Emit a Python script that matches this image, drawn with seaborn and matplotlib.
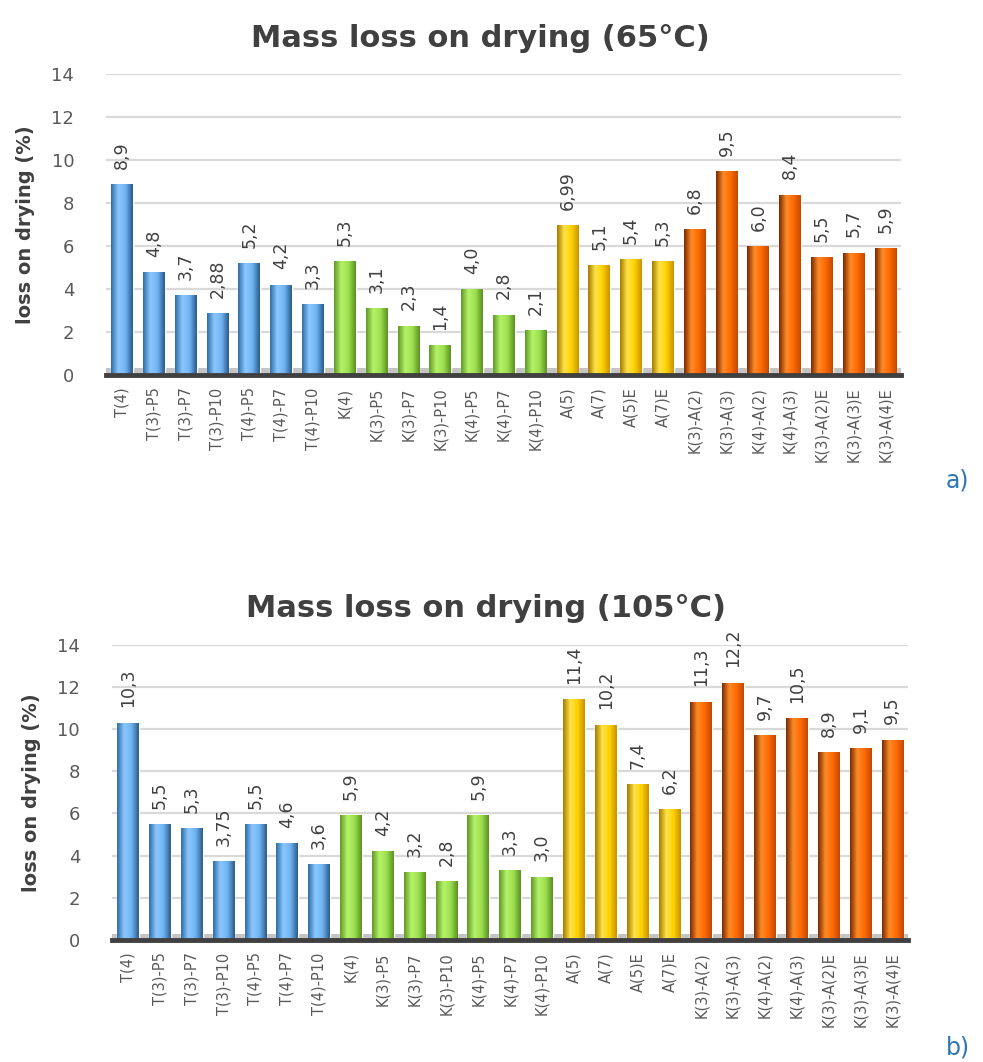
import numpy as np
import pandas as pd
import matplotlib
matplotlib.use("Agg")
import matplotlib.pyplot as plt
from matplotlib.colors import LinearSegmentedColormap
import seaborn as sns

# ---- data ----
samples = ["T(4)", "T(3)-P5", "T(3)-P7", "T(3)-P10", "T(4)-P5", "T(4)-P7", "T(4)-P10",
           "K(4)", "K(3)-P5", "K(3)-P7", "K(3)-P10", "K(4)-P5", "K(4)-P7", "K(4)-P10",
           "A(5)", "A(7)", "A(5)E", "A(7)E",
           "K(3)-A(2)", "K(3)-A(3)", "K(4)-A(2)", "K(4)-A(3)", "K(3)-A(2)E", "K(3)-A(3)E", "K(3)-A(4)E"]
groups = ["T"] * 7 + ["K"] * 7 + ["A"] * 4 + ["KA"] * 7
loss_65 = [8.9, 4.8, 3.7, 2.88, 5.2, 4.2, 3.3,
           5.3, 3.1, 2.3, 1.4, 4.0, 2.8, 2.1,
           6.99, 5.1, 5.4, 5.3,
           6.8, 9.5, 6.0, 8.4, 5.5, 5.7, 5.9]
loss_105 = [10.3, 5.5, 5.3, 3.75, 5.5, 4.6, 3.6,
            5.9, 4.2, 3.2, 2.8, 5.9, 3.3, 3.0,
            11.4, 10.2, 7.4, 6.2,
            11.3, 12.2, 9.7, 10.5, 8.9, 9.1, 9.5]

group_colors = {"T": "#5BA3E6", "K": "#92D050", "A": "#FFC800", "KA": "#FF6A00"}
# left edge -> highlight -> body -> right edge, for cylinder shading
shades = {
    "T": ["#2F6DA8", "#8CC8FF", "#6FB2F0", "#2A5C8C"],
    "K": ["#5E9A26", "#B6F26A", "#9BE04F", "#5C8F22"],
    "A": ["#A87A00", "#FFE54A", "#FFD000", "#C89400"],
    "KA": ["#7A2A00", "#FF8A2A", "#FF6A00", "#C04A00"],
}

TEXT = "#404040"
GRID = "#D9D9D9"


def fmt(v):
    s = f"{v:.1f}" if round(v, 1) == v else f"{v:.2f}"
    return s.replace(".", ",")


def draw_panel(ax, values, title):
    df = pd.DataFrame({"sample": samples, "group": groups, "loss": values})
    sns.barplot(data=df, x="sample", y="loss", hue="group", palette=group_colors,
                dodge=False, width=0.68, legend=False, ax=ax, zorder=3)

    # cylinder-like shading clipped to each bar
    for patch, g in zip(ax.patches, groups):
        x0, y0 = patch.get_x(), patch.get_y()
        w, h = patch.get_width(), patch.get_height()
        cmap = LinearSegmentedColormap.from_list("c", shades[g])
        grad = np.linspace(0, 1, 64).reshape(1, -1)
        im = ax.imshow(grad, cmap=cmap, aspect="auto", extent=(x0, x0 + w, y0, y0 + h),
                       zorder=4, interpolation="bicubic")
        im.set_clip_path(patch)

    for patch, v in zip(ax.patches, values):
        ax.annotate(fmt(v), (patch.get_x() + patch.get_width() / 2, patch.get_height()),
                    xytext=(0, 11), textcoords="offset points", rotation=90,
                    ha="center", va="bottom", fontsize=12.5, color=TEXT, zorder=5)

    # grey floor
    ax.axhspan(0, 0.3, color="#C4C4C4", zorder=2, lw=0)

    ax.set_xlim(-0.5, len(samples) - 0.5)
    ax.set_ylim(0, 14)
    ax.set_yticks(range(0, 15, 2))
    ax.yaxis.grid(True, color=GRID, lw=1.6, zorder=0)
    ax.xaxis.grid(False)
    for s in ["top", "right", "left"]:
        ax.spines[s].set_visible(False)
    ax.spines["bottom"].set_color("#404040")
    ax.spines["bottom"].set_linewidth(3.5)
    ax.spines["bottom"].set_zorder(6)
    ax.tick_params(axis="both", length=0)
    ax.tick_params(axis="x", labelrotation=90, labelsize=10.5, labelcolor="#595959", pad=9)
    ax.tick_params(axis="y", labelsize=13, labelcolor="#595959", pad=23)
    ax.set_xlabel("")
    ax.set_ylabel("loss on drying (%)", fontsize=14, fontweight="bold", color=TEXT, labelpad=12)
    ax.set_title(title, fontsize=22, fontweight="bold", color=TEXT, pad=20, x=0.47)


sns.set_theme(style="white")
plt.rcParams["font.family"] = ["DejaVu Sans"]

fig = plt.figure(figsize=(9.83, 10.62), dpi=100)
ax1 = fig.add_axes([0.108, 0.647, 0.809, 0.283])
ax2 = fig.add_axes([0.114, 0.115, 0.810, 0.278])

draw_panel(ax1, loss_65, "Mass loss on drying (65°C)")
draw_panel(ax2, loss_105, "Mass loss on drying (105°C)")

fig.text(0.962, 0.548, "a)", fontsize=17, color="#2E75B6", ha="left", va="center")
fig.text(0.962, 0.014, "b)", fontsize=17, color="#2E75B6", ha="left", va="center")

fig.savefig("out.png", dpi=100, facecolor="white")
